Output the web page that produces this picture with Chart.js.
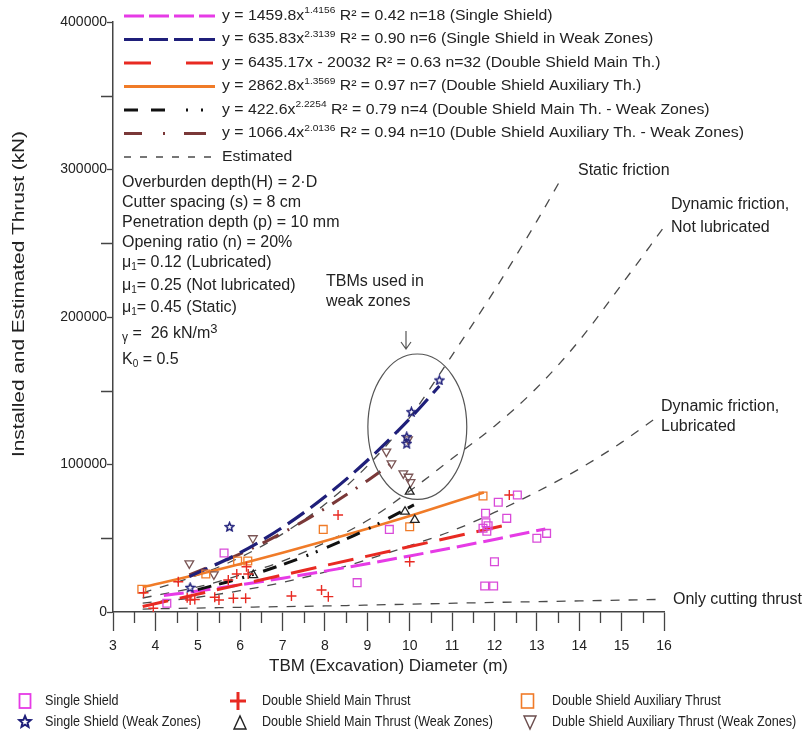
<!DOCTYPE html>
<html>
<head>
<meta charset="utf-8">
<script src="https://cdn.jsdelivr.net/npm/chart.js@4.4.1/dist/chart.umd.min.js"></script>
<style>
  body { margin: 0; background: #fff; }
  canvas { display: block; }
</style>
</head>
<body>
<canvas id="grafico" width="811" height="738"></canvas>
<script>
const FONT = '"Liberation Sans", Arial, sans-serif';

// ---- measured machines ----
const ssX = [4.27, 5.62, 8.76, 9.52, 11.79, 11.73, 11.82, 11.85, 12.0, 11.77, 11.98, 12.54, 12.09, 12.29, 13.23, 13.0, 11.8];
const ssY = [5900, 40000, 19900, 56000, 67000, 56800, 54800, 58500, 34100, 17600, 17600, 79300, 74400, 63500, 53300, 50000, 60500];

const sswX = [5.75, 4.82, 10.7, 10.04, 9.93, 9.93];
const sswY = [57900, 16700, 157300, 135800, 118900, 114400];

const dsmX = [3.72, 3.95, 4.54, 4.75, 4.82, 4.93, 5.4, 5.5, 5.72, 5.84, 5.92, 6.13, 6.15, 6.19, 7.21, 7.92, 8.08, 8.31, 10.0, 12.35];
const dsmY = [13100, 2500, 20500, 9600, 8100, 8500, 10000, 8100, 21700, 9300, 25800, 9300, 30700, 25800, 10800, 14900, 10400, 65800, 34100, 79300];

const dsmwX = [10.0, 9.89, 10.12, 6.31];
const dsmwY = [81600, 68000, 62400, 25000];

const dsaX = [3.68, 5.19, 5.94, 6.18, 7.96, 10.0, 11.73];
const dsaY = [15400, 25800, 34600, 34600, 56000, 57800, 78600];

const dsawX = [9.45, 9.57, 9.85, 9.97, 6.3, 4.8, 5.38, 9.96, 10.02];
const dsawY = [108700, 100800, 94000, 91700, 50000, 33000, 25500, 117000, 88000];

// ---- regression lines ----
const fitSsX = [4.2, 5, 6, 7, 8, 9, 10, 11, 12, 13.2];
const fitSsY = [11130, 14250, 18440, 22940, 27720, 32750, 38010, 43500, 49200, 56310];

const fitSswX = [4.8, 6, 7, 8, 9, 10, 10.7];
const fitSswY = [23970, 40200, 57400, 78150, 102700, 131000, 153200];

const fitDsmX = [3.7, 12.35];
const fitDsmY = [3780, 59440];

const fitDsaX = [3.7, 5, 6, 7, 8, 9, 10, 11.75];
const fitDsaY = [16900, 25420, 32550, 40140, 48100, 56450, 65130, 81050];

const fitDsmwX = [5, 6, 7, 8, 9, 10.1];
const fitDsmwY = [15190, 22790, 32100, 43230, 56160, 72600];

const fitDsawX = [4.8, 6, 7, 8, 9, 9.6];
const fitDsawY = [25100, 39340, 53670, 70200, 88990, 101360];

// ---- estimated thrust ----
const staticX = [3.7, 5, 6, 7, 8, 9, 10, 11, 12, 13, 13.58];
const staticY = [13000, 25000, 37000, 53000, 73000, 99000, 132000, 174000, 218000, 265000, 294000];

const notLubX = [3.7, 5, 6, 7, 8, 9, 10, 11, 12, 13, 14, 15, 16];
const notLubY = [9500, 17000, 25000, 34500, 47000, 62000, 82000, 104000, 126000, 152000, 184000, 222000, 261000];

const lubX = [3.7, 5, 6, 7, 8, 9, 10, 11, 12, 13, 14, 15, 15.83];
const lubY = [6000, 10000, 14500, 20000, 27000, 35500, 45000, 55000, 67500, 81500, 97000, 115000, 132000];

const cutX = [3.7, 6, 8, 10, 12, 14, 16];
const cutY = [2000, 3200, 4100, 5300, 6500, 7500, 8600];

const xTicks = [3, 16];
const yTicks = [0, 400000];

const pts = (xs, ys) => xs.map((x, i) => ({ x, y: ys[i] }));

function starPath(ctx, cx, cy, r) {
  ctx.beginPath();
  for (let i = 0; i < 10; i++) {
    const rr = i % 2 === 0 ? r : r * 0.45;
    const a = -Math.PI / 2 + i * Math.PI / 5;
    const px = cx + rr * Math.cos(a), py = cy + rr * Math.sin(a);
    if (i === 0) ctx.moveTo(px, py); else ctx.lineTo(px, py);
  }
  ctx.closePath();
}

function starCanvas(size, color) {
  const c = document.createElement('canvas');
  c.width = size; c.height = size;
  const g = c.getContext('2d');
  g.strokeStyle = color;
  g.lineWidth = 1.5;
  starPath(g, size / 2, size / 2 + 0.5, size / 2 - 1);
  g.stroke();
  return c;
}

function puntos(label, xs, ys, style, color, extra) {
  return Object.assign({
    label, data: pts(xs, ys), showLine: false,
    pointStyle: style, pointRadius: 5, pointBorderWidth: 1.3,
    borderColor: color, backgroundColor: 'rgba(0,0,0,0)'
  }, extra || {});
}

function curva(label, xs, ys, color, width, dash) {
  return {
    label, data: pts(xs, ys), showLine: true, pointRadius: 0,
    borderColor: color, borderWidth: width, borderDash: dash,
    cubicInterpolationMode: 'monotone', fill: false
  };
}

const MAGENTA = '#e63be6', NAVY = '#1f1f7a', RED = '#e82a22', ORANGE = '#f07b28',
      BLACK = '#111111', BROWN = '#7a3838', GRAY = '#4a4a4a';

// text made of runs (sub/superscripts), optionally stretched sideways
function rich(ctx, x, y, parts, sx) {
  ctx.save();
  ctx.translate(x, y);
  ctx.scale(sx || 1, 1);
  let cx = 0;
  parts.forEach(p => {
    ctx.font = `${p.size}px ${FONT}`;
    ctx.fillText(p.t, cx, p.dy || 0);
    cx += ctx.measureText(p.t).width;
  });
  ctx.restore();
}

function muestra(ctx, y, color, width, dash) {
  ctx.save();
  ctx.strokeStyle = color;
  ctx.lineWidth = width;
  ctx.setLineDash(dash);
  ctx.beginPath();
  ctx.moveTo(124, y);
  ctx.lineTo(215, y);
  ctx.stroke();
  ctx.restore();
}

const extras = {
  id: 'extras',
  beforeDraw(chart) {
    const ctx = chart.ctx;
    ctx.save();
    ctx.fillStyle = '#fff';
    ctx.fillRect(0, 0, chart.width, chart.height);
    ctx.restore();
  },
  afterDraw(chart) {
    const ctx = chart.ctx;
    const sx = chart.scales.x, sy = chart.scales.y;
    const area = chart.chartArea;

    // minor ticks
    ctx.save();
    ctx.strokeStyle = '#444';
    ctx.lineWidth = 1.3;
    ctx.beginPath();
    for (let v = 3.5; v < 16; v += 1) {
      const px = Math.round(sx.getPixelForValue(v)) + 0.5;
      ctx.moveTo(px, area.bottom);
      ctx.lineTo(px, area.bottom + 11);
    }
    for (let v = 50000; v < 400000; v += 100000) {
      const py = Math.round(sy.getPixelForValue(v)) + 0.5;
      ctx.moveTo(area.left, py);
      ctx.lineTo(area.left - 12, py);
    }
    ctx.stroke();

    // weak zone ellipse and arrow
    const ecx = sx.getPixelForValue(10.18), ecy = sy.getPixelForValue(125600);
    const erx = sx.getPixelForValue(10.18 + 1.167) - ecx;
    const ery = ecy - sy.getPixelForValue(125600 + 49300);
    ctx.strokeStyle = '#555';
    ctx.lineWidth = 1.2;
    ctx.beginPath();
    ctx.ellipse(ecx, ecy, erx, ery, 0, 0, Math.PI * 2);
    ctx.stroke();
    ctx.beginPath();
    ctx.moveTo(406, 331); ctx.lineTo(406, 349);
    ctx.moveTo(401, 342); ctx.lineTo(406, 349); ctx.lineTo(411, 342);
    ctx.stroke();
    ctx.restore();

    ctx.save();
    ctx.fillStyle = '#222';
    ctx.textBaseline = 'middle';
    ctx.textAlign = 'left';

    // regression legend
    const SX = 1.13;
    const rows = [
      [MAGENTA, 3, [20, 5], [{ t: 'y = 1459.8x', size: 14 }, { t: '1.4156', size: 9, dy: -5 }, { t: ' R² = 0.42 n=18 (Single Shield)', size: 14 }]],
      [NAVY, 3.2, [19, 6], [{ t: 'y = 635.83x', size: 14 }, { t: '2.3139', size: 9, dy: -5 }, { t: ' R² = 0.90 n=6 (Single Shield in Weak Zones)', size: 14 }]],
      [RED, 3, [27, 35], [{ t: 'y = 6435.17x - 20032 R² = 0.63 n=32 (Double Shield Main Th.)', size: 14 }]],
      [ORANGE, 3, [], [{ t: 'y = 2862.8x', size: 14 }, { t: '1.3569', size: 9, dy: -5 }, { t: ' R² = 0.97 n=7 (Double Shield Auxiliary Th.)', size: 14 }]],
      [BLACK, 3, [14, 13, 14, 21, 2, 13, 2, 13, 2, 20], [{ t: 'y = 422.6x', size: 14 }, { t: '2.2254', size: 9, dy: -5 }, { t: ' R² = 0.79 n=4 (Double Shield Main Th. - Weak Zones)', size: 14 }]],
      [BROWN, 3, [18, 21, 2, 19, 22], [{ t: 'y = 1066.4x', size: 14 }, { t: '2.0136', size: 9, dy: -5 }, { t: ' R² = 0.94 n=10 (Duble Shield Auxiliary Th. - Weak Zones)', size: 14 }]],
      [GRAY, 1.3, [7, 9], [{ t: 'Estimated', size: 14 }]]
    ];
    rows.forEach((r, i) => {
      const y = 16 + i * 23.5;
      muestra(ctx, y, r[0], r[1], r[2]);
      rich(ctx, 222, y, r[3], SX);
    });

    // model parameters
    const f16 = t => ({ t, size: 16 });
    const sub = t => ({ t, size: 10, dy: 4 });
    const left = 122;
    rich(ctx, left, 183, [f16('Overburden depth(H) = 2·D')]);
    rich(ctx, left, 203, [f16('Cutter spacing (s) = 8 cm')]);
    rich(ctx, left, 223, [f16('Penetration depth (p) = 10 mm')]);
    rich(ctx, left, 243, [f16('Opening ratio (n) = 20%')]);
    rich(ctx, left, 263, [f16('μ'), sub('1'), f16('= 0.12 (Lubricated)')]);
    rich(ctx, left, 286, [f16('μ'), sub('1'), f16('= 0.25 (Not lubricated)')]);
    rich(ctx, left, 308, [f16('μ'), sub('1'), f16('= 0.45 (Static)')]);
    rich(ctx, left, 334, [{ t: 'γ', size: 12, dy: 4 }, f16(' =  26 kN/m'), { t: '3', size: 13, dy: -5 }]);
    rich(ctx, left, 360, [f16('K'), sub('0'), f16(' = 0.5')]);

    // curve labels
    ctx.font = `16px ${FONT}`;
    ctx.fillText('TBMs used in', 326, 282);
    ctx.fillText('weak zones', 326, 302);
    ctx.fillText('Static friction', 578, 171);
    ctx.fillText('Dynamic friction,', 671, 205);
    ctx.fillText('Not lubricated', 671, 228);
    ctx.fillText('Dynamic friction,', 661, 407);
    ctx.fillText('Lubricated', 661, 427);
    ctx.fillText('Only cutting thrust', 673, 600);

    // y axis title
    ctx.save();
    ctx.translate(20, 294);
    ctx.rotate(-Math.PI / 2);
    ctx.scale(1.3, 1);
    ctx.textAlign = 'center';
    ctx.font = `16px ${FONT}`;
    ctx.fillText('Installed and Estimated Thrust (kN)', 0, 0);
    ctx.restore();

    // symbol legend
    const r1 = 701, r2 = 722;
    ctx.lineWidth = 1.8;
    ctx.strokeStyle = MAGENTA;
    ctx.strokeRect(19.5, r1 - 7, 11, 14);
    ctx.strokeStyle = RED;
    ctx.lineWidth = 3;
    ctx.beginPath();
    ctx.moveTo(230, r1); ctx.lineTo(246, r1);
    ctx.moveTo(238, r1 - 9); ctx.lineTo(238, r1 + 9);
    ctx.stroke();
    ctx.strokeStyle = ORANGE;
    ctx.lineWidth = 1.6;
    ctx.strokeRect(521.5, r1 - 7, 12, 14);

    ctx.strokeStyle = NAVY;
    ctx.lineWidth = 2;
    starPath(ctx, 25, r2, 6);
    ctx.stroke();
    ctx.strokeStyle = '#222';
    ctx.lineWidth = 1.4;
    ctx.beginPath();
    ctx.moveTo(234, r2 + 7); ctx.lineTo(246, r2 + 7); ctx.lineTo(240, r2 - 6); ctx.closePath();
    ctx.stroke();
    ctx.strokeStyle = '#6b4d4d';
    ctx.beginPath();
    ctx.moveTo(524, r2 - 6); ctx.lineTo(536, r2 - 6); ctx.lineTo(530, r2 + 7); ctx.closePath();
    ctx.stroke();

    // narrow labels: regular face squeezed sideways
    const narrow = (t, x, y) => rich(ctx, x, y, [{ t, size: 15 }], 0.84);
    ctx.fillStyle = '#222';
    narrow('Single Shield', 45, r1);
    narrow('Single Shield (Weak Zones)', 45, r2);
    narrow('Double Shield Main Thrust', 262, r1);
    narrow('Double Shield Main Thrust (Weak Zones)', 262, r2);
    narrow('Double Shield Auxiliary Thrust', 552, r1);
    narrow('Duble Shield Auxiliary Thrust (Weak Zones)', 552, r2);
    ctx.restore();
  }
};

const datasets = [
  puntos('Single Shield', ssX, ssY, 'rect', '#d94ad9', { pointRadius: 5.5 }),
  puntos('Single Shield (Weak Zones)', sswX, sswY, starCanvas(11, NAVY), NAVY),
  puntos('Double Shield Main Thrust', dsmX, dsmY, 'cross', RED, { pointBorderWidth: 1.4 }),
  puntos('Double Shield Main Thrust (Weak Zones)', dsmwX, dsmwY, 'triangle', '#222'),
  puntos('Double Shield Auxiliary Thrust', dsaX, dsaY, 'rect', ORANGE, { pointRadius: 5.5 }),
  puntos('Duble Shield Auxiliary Thrust (Weak Zones)', dsawX, dsawY, 'triangle', '#7a5555', { pointRotation: 180 }),
  curva('y = 635.83x^2.3139', fitSswX, fitSswY, NAVY, 3.2, [20, 8]),
  curva('y = 1066.4x^2.0136', fitDsawX, fitDsawY, BROWN, 3, [18, 10, 2, 10]),
  curva('y = 422.6x^2.2254', fitDsmwX, fitDsmwY, BLACK, 3, [14, 8, 14, 10, 2, 8, 2, 10]),
  curva('y = 2862.8x^1.3569', fitDsaX, fitDsaY, ORANGE, 2.6, []),
  curva('y = 6435.17x - 20032', fitDsmX, fitDsmY, RED, 3, [26, 12]),
  curva('y = 1459.8x^1.4156', fitSsX, fitSsY, MAGENTA, 3, [20, 7]),
  curva('Static friction', staticX, staticY, GRAY, 1.3, [9, 9]),
  curva('Dynamic friction, Not lubricated', notLubX, notLubY, GRAY, 1.3, [9, 9]),
  curva('Dynamic friction, Lubricated', lubX, lubY, GRAY, 1.3, [9, 9]),
  curva('Only cutting thrust', cutX, cutY, GRAY, 1.3, [9, 9])
];

Chart.defaults.font.family = FONT;

new Chart(document.getElementById('grafico'), {
  type: 'scatter',
  data: { datasets },
  options: {
    responsive: false,
    animation: false,
    devicePixelRatio: 1,
    layout: { padding: { top: 22, right: 147, bottom: 56, left: 0 } },
    plugins: { legend: { display: false }, tooltip: { enabled: false } },
    scales: {
      x: {
        type: 'linear',
        min: xTicks[0], max: xTicks[1],
        afterFit(scale) { scale.height = 70; },
        ticks: { stepSize: 1, padding: 7, maxRotation: 0, color: '#222', font: { size: 14 } },
        grid: { drawOnChartArea: false, tickLength: 19, tickColor: '#444', tickWidth: 1.3 },
        border: { color: '#444', width: 1.5 },
        title: {
          display: true, text: 'TBM (Excavation) Diameter (m)', color: '#222',
          font: { size: 17 }, padding: { top: 4, bottom: 5 }
        }
      },
      y: {
        type: 'linear',
        min: yTicks[0], max: yTicks[1],
        afterFit(scale) { scale.width = 113; },
        ticks: { stepSize: 100000, padding: 0, color: '#222', font: { size: 14 }, callback: v => String(v) },
        grid: { drawOnChartArea: false, tickLength: 6, tickColor: '#444', tickWidth: 1.3 },
        border: { color: '#444', width: 1.5 }
      }
    }
  },
  plugins: [extras]
});
</script>
</body>
</html>
